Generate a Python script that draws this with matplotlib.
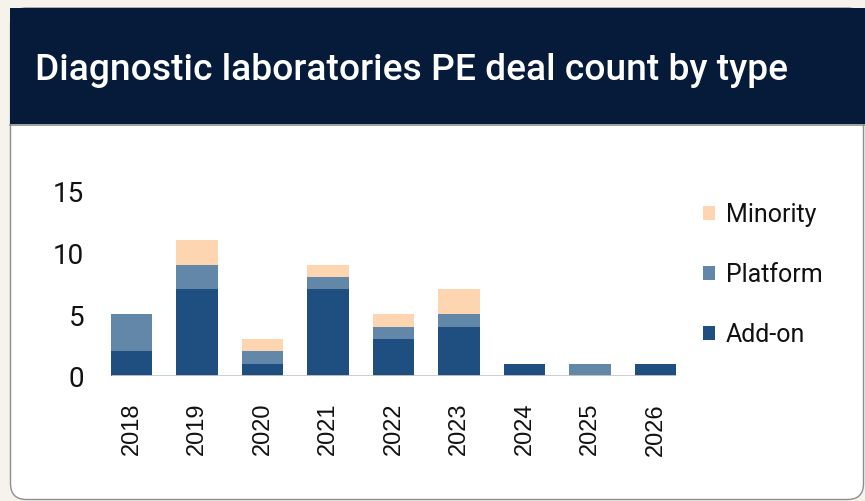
import matplotlib
matplotlib.use('Agg')
import matplotlib.pyplot as plt
from matplotlib.patches import FancyBboxPatch, Rectangle
from matplotlib.transforms import IdentityTransform
from matplotlib.lines import Line2D
from matplotlib import font_manager

# ---- data ----
years = ['2018', '2019', '2020', '2021', '2022', '2023', '2024', '2025', '2026']
addon = [2, 7, 1, 7, 3, 4, 1, 0, 1]
platform = [3, 2, 1, 1, 1, 1, 0, 1, 0]
minority = [0, 2, 1, 1, 1, 2, 0, 0, 0]
series_names = ['Add-on', 'Platform', 'Minority']
yticks = [0, 5, 10, 15]
title = 'Diagnostic laboratories PE deal count by type'

colors = {'Add-on': '#1F4F80', 'Platform': '#6387A9', 'Minority': '#FDD6B1'}

names = {f.name for f in font_manager.fontManager.ttflist}
narrow = 'Liberation Sans Narrow' if 'Liberation Sans Narrow' in names else None

W, H = 865, 502
fig = plt.figure(figsize=(W / 100, H / 100), dpi=100)
fig.patch.set_facecolor('#F6F3EC')

ident = IdentityTransform()
# card
card = FancyBboxPatch((10.5, 1.5), 853, H - 10.5, boxstyle='round,pad=0,rounding_size=16',
                      transform=ident, fc='white', ec='#8E8E8E', lw=1.0, zorder=-3)
fig.patches.append(card)
# header
header = Rectangle((10, H - 125), W - 10, 116, transform=ident, fc='#061B39', ec='none', zorder=-2)
fig.patches.append(header)
fig.lines.append(Line2D([10, W], [H - 125.5, H - 125.5], transform=ident, color='#8E8E8E', lw=1.2, zorder=-1))

fig.text(35 / W, (H - 80) / H, title, color='white', fontsize=26.7, family='Roboto',
         fontweight='medium', va='baseline', ha='left', zorder=1)

# axes
x0_px, x1_px = 98.75, 688.25
ax = fig.add_axes([x0_px / W, 125 / H, (x1_px - x0_px) / W, 198 / H])
ax.set_zorder(5)
ax.set_facecolor('none')
ax.patch.set_alpha(0)
for s in ax.spines.values():
    s.set_visible(False)

xs = list(range(len(years)))
bw = 0.63
b1 = ax.bar(xs, addon, bw, color=colors['Add-on'], label='Add-on', zorder=2)
bottom2 = addon
b2 = ax.bar(xs, platform, bw, bottom=bottom2, color=colors['Platform'], label='Platform', zorder=2)
bottom3 = [a + p for a, p in zip(addon, platform)]
b3 = ax.bar(xs, minority, bw, bottom=bottom3, color=colors['Minority'], label='Minority', zorder=2)

ax.plot([-bw / 2, len(years) - 1 + bw / 2], [0, 0], color='#CDC9C3', lw=2, solid_capstyle='butt', zorder=3)

ax.set_xlim(-0.5, len(years) - 0.5)
ax.set_ylim(0, 16)
ax.set_yticks(yticks)
ax.set_yticklabels([str(v) for v in yticks])
ax.set_xticks(xs)
ax.set_xticklabels(years, rotation=90)
ax.tick_params(axis='y', length=0, pad=10.6)
ax.tick_params(axis='x', length=0, pad=18.7)
for lab in ax.get_yticklabels():
    if narrow:
        lab.set_family(narrow); lab.set_fontsize(21)
    else:
        lab.set_family('Roboto'); lab.set_fontsize(20)
    lab.set_color('#111111')
for lab in ax.get_xticklabels():
    if narrow:
        lab.set_family(narrow); lab.set_fontsize(21)
    else:
        lab.set_family('Liberation Sans'); lab.set_fontsize(17)
    lab.set_color('#111111')

fs = 18
fs_px = fs * 100 / 72
leg = ax.legend(handles=[b3, b2, b1], labels=['Minority', 'Platform', 'Add-on'],
                loc='upper left', bbox_to_anchor=(703 / W, (H - 203.5) / H), bbox_transform=fig.transFigure,
                frameon=False, prop={'family': 'Roboto', 'size': fs},
                handlelength=12 / fs_px, handleheight=12 / fs_px, handletextpad=11 / fs_px,
                labelspacing=1.44, borderpad=0, borderaxespad=0)
for t in leg.get_texts():
    t.set_color('#111111')

fig.savefig('out.png', dpi=100, facecolor=fig.get_facecolor())
